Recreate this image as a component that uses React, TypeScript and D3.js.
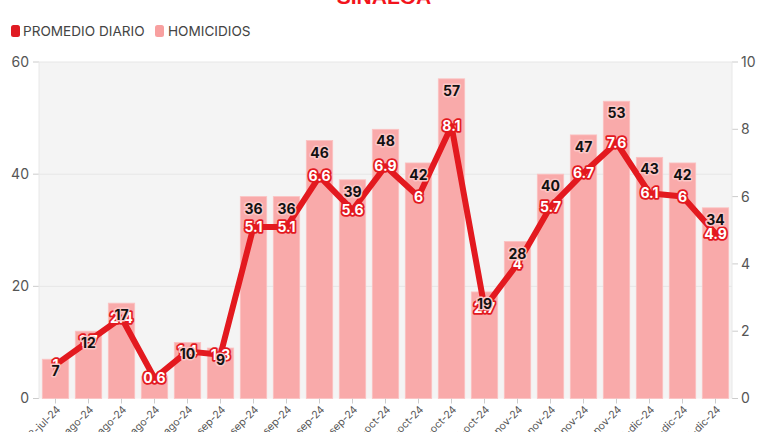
import React from "react";
import * as d3 from "d3";

const categories = [
  "28-jul-24", "04-ago-24", "11-ago-24", "18-ago-24", "25-ago-24",
  "01-sep-24", "08-sep-24", "15-sep-24", "22-sep-24", "29-sep-24",
  "06-oct-24", "13-oct-24", "20-oct-24", "27-oct-24",
  "03-nov-24", "10-nov-24", "17-nov-24", "24-nov-24",
  "01-dic-24", "08-dic-24", "15-dic-24",
];
const homicidios = [7, 12, 17, 4, 10, 9, 36, 36, 46, 39, 48, 42, 57, 19, 28, 40, 47, 53, 43, 42, 34];
const promedio = [1, 1.7, 2.4, 0.6, 1.4, 1.3, 5.1, 5.1, 6.6, 5.6, 6.9, 6, 8.1, 2.7, 4, 5.7, 6.7, 7.6, 6.1, 6, 4.9];
const leftTicks = [0, 20, 40, 60];
const rightTicks = [0, 2, 4, 6, 8, 10];

const W = 768;
const H = 432;
const L = 39, R = 732, T = 62, B = 398.5;
const RED = "#e3191f";
const PINK = "#f9aaaa";
const FONT = "Inter, 'Noto Sans', sans-serif";

export default function App() {
  const x = d3.scaleBand<string>().domain(categories).range([L, R]).paddingInner(0.2).paddingOuter(0.1);
  const yL = d3.scaleLinear().domain([0, 60]).range([B, T]);
  const yR = d3.scaleLinear().domain([0, 10]).range([B, T]);
  const cx = (c: string) => (x(c) as number) + x.bandwidth() / 2;
  const line = d3.line<number>().x((_, i) => cx(categories[i])).y((d) => yR(d)).curve(d3.curveLinear);

  return (
    <svg width={W} height={H} style={{ position: "absolute", left: 0, top: 0, fontFamily: FONT }}>
      <rect x={0} y={0} width={W} height={H} fill="#fff" />
      <text x={384} y={4} textAnchor="middle" fill="#f2141c" fontSize={21} fontWeight={700} fontFamily="'Liberation Sans', Arial, sans-serif">SINALOA</text>
      {/* legend */}
      <rect x={11} y={25} width={9} height={12} rx={2.5} fill="#e01b22" />
      <text x={23} y={36} fontSize={13.6} fill="#444">PROMEDIO DIARIO</text>
      <rect x={155} y={25} width={9} height={12} rx={2.5} fill="#f8a0a0" />
      <text x={168} y={36} fontSize={13.6} fill="#444">HOMICIDIOS</text>

      {/* plot background */}
      <rect x={L} y={T} width={R - L} height={B - T} fill="#f4f4f4" />
      {leftTicks.map((t) => (
        <g key={"l" + t}>
          {t > 0 && <line x1={L} x2={R} y1={yL(t)} y2={yL(t)} stroke="#e6e6e6" strokeWidth={1} />}
          <line x1={L - 6} x2={L} y1={yL(t)} y2={yL(t)} stroke="#ccc" />
          <text x={L - 10} y={yL(t)} dy="0.35em" textAnchor="end" fontSize={14} fill="#555">{t}</text>
        </g>
      ))}
      {rightTicks.map((t) => (
        <g key={"r" + t}>
          <line x1={R} x2={R + 6} y1={yR(t)} y2={yR(t)} stroke="#ccc" />
          <text x={R + 9} y={yR(t)} dy="0.35em" textAnchor="start" fontSize={14} fill="#555">{t}</text>
        </g>
      ))}
      <line x1={L} x2={L} y1={T} y2={B} stroke="#e8e8e8" />
      <line x1={R} x2={R} y1={T} y2={B} stroke="#e8e8e8" />

      {/* bars */}
      {homicidios.map((v, i) => (
        <rect key={"b" + i} x={x(categories[i])} y={yL(v)} width={x.bandwidth()} height={B - yL(v)} fill={PINK} stroke="#fbc2c2" strokeWidth={0.8} />
      ))}

      {/* x axis ticks & labels */}
      {categories.map((c) => (
        <g key={"x" + c}>
          <line x1={cx(c)} x2={cx(c)} y1={B} y2={B + 5} stroke="#ccc" />
          <text transform={`translate(${cx(c) + 3},${B + 9}) rotate(-45)`} textAnchor="end" dy="0.35em" fontSize={10.5} fill="#555">{c}</text>
        </g>
      ))}

      {/* line */}
      <path d={line(promedio) || ""} fill="none" stroke={RED} strokeWidth={6} strokeLinejoin="round" strokeLinecap="round" />

      {/* average labels */}
      {promedio.map((v, i) => (
        <text key={"p" + i} x={cx(categories[i])} y={yR(v)} dy="0.36em" textAnchor="middle" fontSize={14} fontWeight={700}
          fill="#fff" stroke={RED} strokeWidth={3.5} strokeLinejoin="round" style={{ paintOrder: "stroke" }}>{v}</text>
      ))}

      {/* homicide labels */}
      {homicidios.map((v, i) =>
        B - yL(v) < 25 ? null : (
          <text key={"h" + i} x={cx(categories[i])} y={yL(v) + 12} dy="0.36em" textAnchor="middle" fontSize={14} fontWeight={700}
            fill="#111" stroke="#fbc6c6" strokeWidth={3} strokeLinejoin="round" style={{ paintOrder: "stroke" }}>{v}</text>
        )
      )}
    </svg>
  );
}
